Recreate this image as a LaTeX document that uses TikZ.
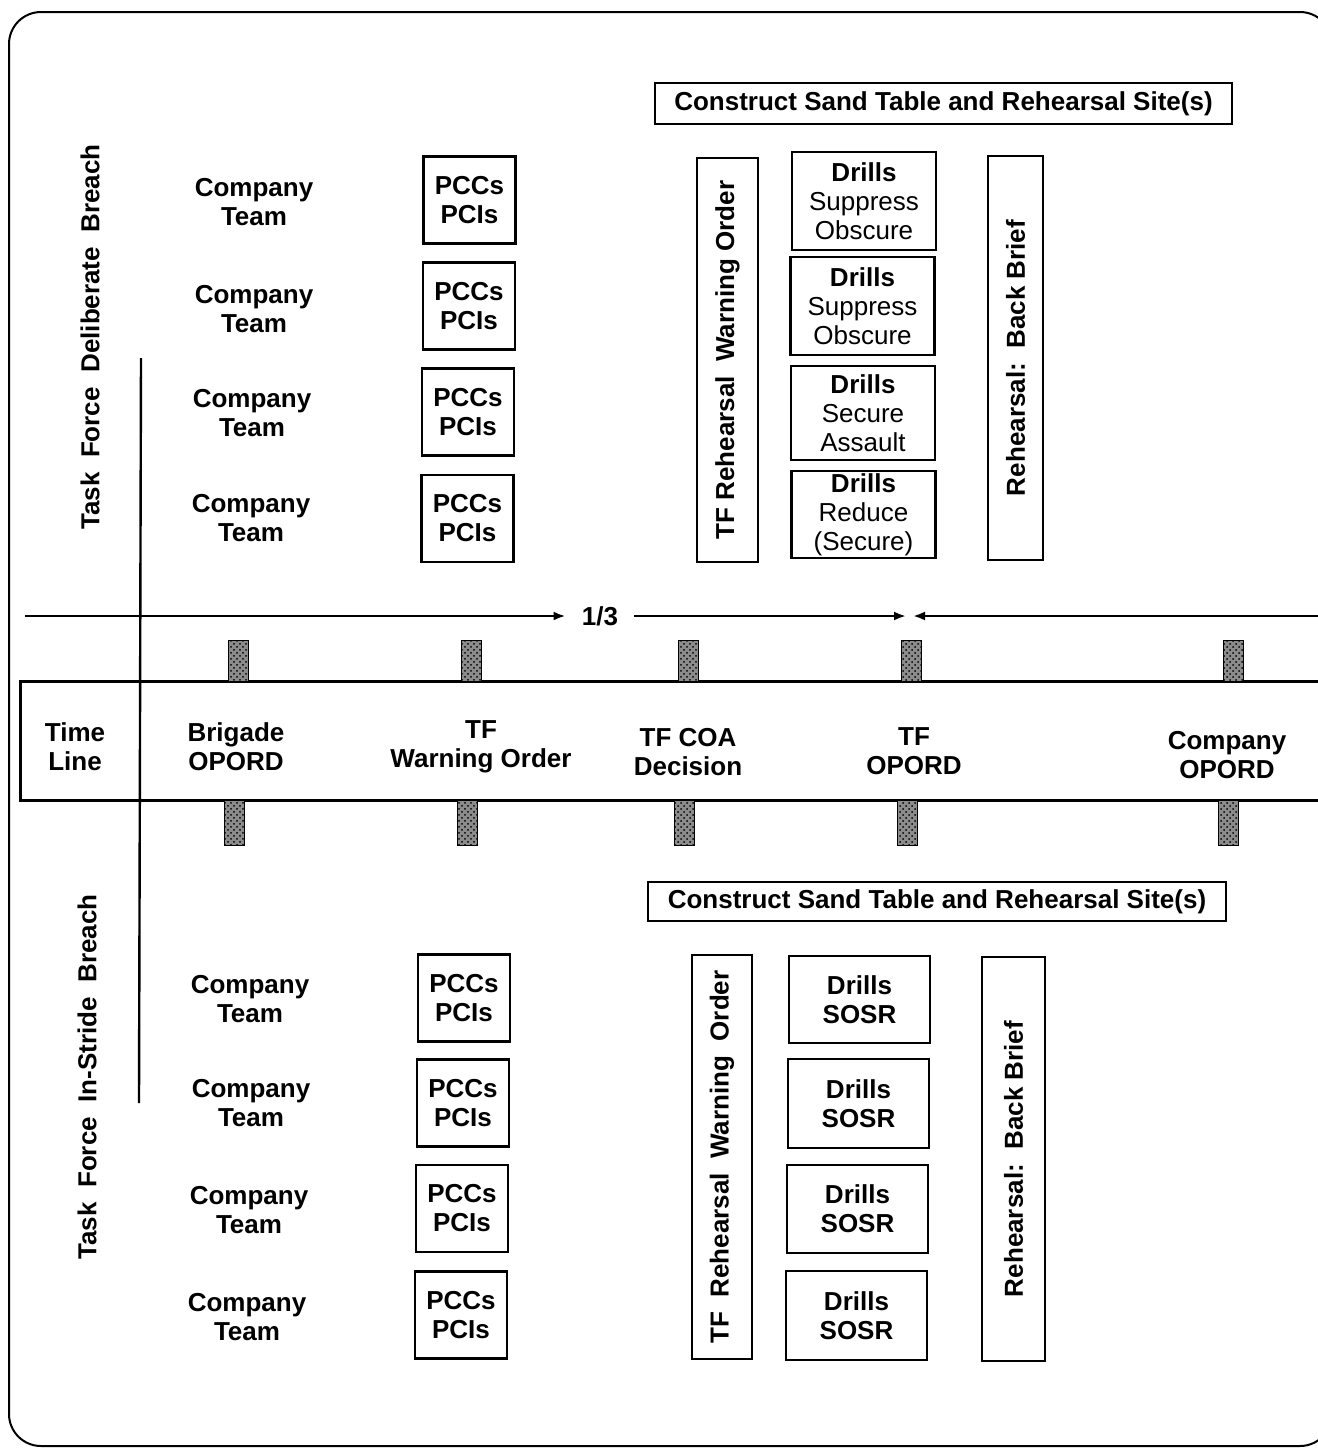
\documentclass[tikz,border=0pt]{standalone}
\usepackage{fontspec}
\setmainfont{Liberation Sans}
\usetikzlibrary{patterns, arrows.meta, positioning}

\begin{document}
\begin{tikzpicture}[x=0.5pt,y=-0.5pt,
	lbl/.style={align=center, inner sep=0pt, font=\fontsize{13}{14.5}\selectfont\bfseries},
	box/.style={lbl, draw, line width=1.2pt},
	pcc/.style={box, minimum width=46pt, minimum height=43.5pt},
	drill/.style={box, minimum width=72pt},
	drilltxt/.style={drill, font=\fontsize{13}{14.5}\selectfont\mdseries},
	tall/.style={box, rotate=90, minimum width=202pt},
	side/.style={lbl, rotate=90},
	tickbar/.style={draw=black, line width=0.4pt, preaction={fill=black!45}, pattern=crosshatch dots, pattern color=black},
	band/.style={line width=1.5pt},
	tarrow/.style={line width=1.2pt, -{Latex[length=6pt, width=4.5pt]}}]
	\useasboundingbox (0,0) rectangle (1318,1448);
	\draw [line width=1pt, rounded corners=16pt] (9,12) rectangle (1332,1446);

	% time line band
	\draw [band] (1330,681) -- (20,681) -- (20,800) -- (1330,800);
	\draw [line width=1.2pt] (141,358) -- (139,1103);
	\foreach \xa/\xb [count=\i] in {238/234, 471/467, 688/684, 911/907, 1233/1228} {
		\draw [tickbar] (\xa-10,640) rectangle (\xa+10,681);
		\draw [tickbar] (\xb-10,800) rectangle (\xb+10,845);
	}
	\node [lbl] (tline) at (75,747) {Time\\Line};
	\node [lbl] (bdeord) at (236,747) {Brigade\\OPORD};
	\node [lbl] (tfwo) at (481,747) {TF\\Warning Order};
	\node [lbl] (tfcoa) at (688,752) {TF COA\\Decision};
	\node [lbl] (tford) at (914,751) {TF\\OPORD};
	\node [lbl] (coord) at (1227,755) {Company\\OPORD};

	% one third / two thirds arrows
	\coordinate (arrA) at (25,616);
	\node [lbl, inner xsep=8pt] (third) at (600,616) {1/3};
	\coordinate (arrB) at (906,616);
	\coordinate (arrC) at (1330,616);
	\coordinate (arrD) at (913,616);
	\draw [tarrow] (arrA) -- (third.west);
	\draw [tarrow] (third.east) -- (arrB);
	\draw [tarrow] (arrC) -- (arrD);

	% deliberate breach
	\node [side] (delib) at (90,337) {Task\ \ Force\ \ Deliberate\ \ Breach};
	\node [lbl] (coA1) at (254,202) {Company\\Team};
	\node [lbl] (coA2) at (254,309) {Company\\Team};
	\node [lbl] (coA3) at (252,413) {Company\\Team};
	\node [lbl] (coA4) at (251,518) {Company\\Team};
	\node [pcc] (pccA1) at (469.5,200) {PCCs\\PCIs};
	\node [pcc] (pccA2) at (469,306) {PCCs\\PCIs};
	\node [pcc] (pccA3) at (468,412) {PCCs\\PCIs};
	\node [pcc] (pccA4) at (467.5,518.5) {PCCs\\PCIs};
	\node [box, minimum width=288.5pt, minimum height=20.5pt] (sandA) at (943.5,103.5) {Construct Sand Table and Rehearsal Site(s)};
	\node [tall, minimum height=30.5pt] (rehA) at (727.5,360) {TF Rehearsal\ \ Warning Order};
	\node [drilltxt, minimum height=49pt] (drA1) at (864,201) {\textbf{Drills}\\Suppress\\Obscure};
	\node [drilltxt, minimum height=49pt] (drA2) at (862.5,306) {\textbf{Drills}\\Suppress\\Obscure};
	\node [drilltxt, minimum height=47pt] (drA3) at (863,413) {\textbf{Drills}\\Secure\\Assault};
	\node [drilltxt, minimum height=43.5pt] (drA4) at (863.5,514.5) {\textbf{Drills}\\Reduce\\(Secure)};
	\node [tall, minimum height=27.5pt] (briefA) at (1015.5,358) {Rehearsal:\ \ Back Brief};

	% in-stride breach
	\node [side] (instr) at (87,1077) {Task\ \ Force\ \ In-Stride\ \ Breach};
	\node [lbl] (coB1) at (250,999) {Company\\Team};
	\node [lbl] (coB2) at (251,1103) {Company\\Team};
	\node [lbl] (coB3) at (249,1210) {Company\\Team};
	\node [lbl] (coB4) at (247,1317) {Company\\Team};
	\node [pcc] (pccB1) at (464,998) {PCCs\\PCIs};
	\node [pcc] (pccB2) at (463,1103) {PCCs\\PCIs};
	\node [pcc] (pccB3) at (462,1208.5) {PCCs\\PCIs};
	\node [pcc] (pccB4) at (461,1315) {PCCs\\PCIs};
	\node [box, minimum width=289pt, minimum height=19.5pt] (sandB) at (937,901.5) {Construct Sand Table and Rehearsal Site(s)};
	\node [tall, minimum height=30pt] (rehB) at (722,1157) {TF\ \ Rehearsal\ \ Warning\ \ Order};
	\node [drill, minimum width=70.5pt, minimum height=43.5pt] (drB1) at (859.5,999.5) {Drills\\SOSR};
	\node [drill, minimum width=70.5pt, minimum height=44.5pt] (drB2) at (858.5,1103.5) {Drills\\SOSR};
	\node [drill, minimum width=70.5pt, minimum height=44pt] (drB3) at (857.5,1209) {Drills\\SOSR};
	\node [drill, minimum width=70.5pt, minimum height=44.5pt] (drB4) at (856.5,1315.5) {Drills\\SOSR};
	\node [tall, minimum height=31.5pt] (briefB) at (1013.5,1159) {Rehearsal:\ \ Back Brief};
\end{tikzpicture}
\end{document}
